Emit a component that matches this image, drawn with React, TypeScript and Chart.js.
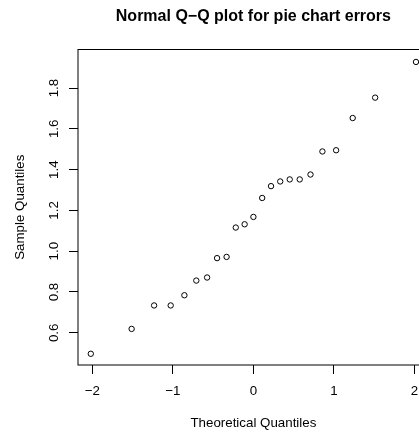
import { useEffect, useRef } from "react";
import { Chart, registerables } from "chart.js";

Chart.register(...registerables);

const chartTitle = "Normal Q\u2212Q plot for pie chart errors";
const xAxisTitle = "Theoretical Quantiles";
const yAxisTitle = "Sample Quantiles";

const theoreticalQuantiles = [
  -2.019, -1.512, -1.233, -1.027, -0.857, -0.709, -0.575, -0.451, -0.333, -0.219, -0.109, 0,
  0.109, 0.219, 0.333, 0.451, 0.575, 0.709, 0.857, 1.027, 1.233, 1.512, 2.019,
];
const sampleQuantiles = [
  0.497, 0.619, 0.734, 0.734, 0.784, 0.856, 0.871, 0.966, 0.972, 1.116, 1.132, 1.168,
  1.261, 1.319, 1.342, 1.352, 1.352, 1.376, 1.489, 1.495, 1.653, 1.753, 1.928,
];

const xTicks = [-2, -1, 0, 1, 2];
const xTickLabels = ["\u22122", "\u22121", "0", "1", "2"];
const yTicks = [0.6, 0.8, 1.0, 1.2, 1.4, 1.6, 1.8];
const yTickLabels = ["0.6", "0.8", "1.0", "1.2", "1.4", "1.6", "1.8"];

const FONT = "'Liberation Sans', Arial, Helvetica, sans-serif";

const boxPlugin = {
  id: "plotBox",
  afterDraw(chart: any) {
    const { ctx, chartArea } = chart;
    ctx.save();
    ctx.strokeStyle = "#000";
    ctx.lineWidth = 1;
    ctx.strokeRect(chartArea.left, chartArea.top, chartArea.right - chartArea.left, chartArea.bottom - chartArea.top);
    ctx.restore();
  },
};

export default function App() {
  const ref = useRef<HTMLCanvasElement | null>(null);

  useEffect(() => {
    if (!ref.current) return;
    const points = theoreticalQuantiles.map((x, i) => ({ x, y: sampleQuantiles[i] }));
    const chart = new Chart(ref.current, {
      type: "scatter",
      data: {
        datasets: [
          {
            data: points,
            pointRadius: 2.7,
            pointHoverRadius: 2.7,
            pointBorderWidth: 1,
            pointBorderColor: "#000",
            pointBackgroundColor: "rgba(0,0,0,0)",
            showLine: false,
          },
        ],
      },
      options: {
        animation: false,
        responsive: false,
        devicePixelRatio: 1,
        layout: { padding: { left: 0, right: 11.2, top: 0, bottom: 0 } },
        plugins: {
          legend: { display: false },
          tooltip: { enabled: false },
          title: {
            display: true,
            text: chartTitle,
            fullSize: false,
            color: "#000",
            font: { family: FONT, size: 16, weight: "bold", lineHeight: 1.2 },
            padding: { top: 6.9, bottom: 23.4 },
          },
        },
        scales: {
          x: {
            type: "linear",
            min: -2.178,
            max: 2.178,
            afterBuildTicks: (scale: any) => {
              scale.ticks = xTicks.map((v) => ({ value: v }));
            },
            afterFit: (scale: any) => {
              scale.height = 70;
            },
            ticks: {
              color: "#000",
              padding: 9.7,
              maxRotation: 0,
              minRotation: 0,
              autoSkip: false,
              font: { family: FONT, size: 13.33 },
              callback: (value: any) => {
                const i = xTicks.indexOf(Number(value));
                return i >= 0 ? xTickLabels[i] : "";
              },
            },
            grid: {
              drawOnChartArea: false,
              drawTicks: true,
              tickLength: 9,
              color: "#000",
              lineWidth: 1,
            },
            border: { display: false },
            title: {
              display: true,
              text: xAxisTitle,
              color: "#000",
              font: { family: FONT, size: 13.33, lineHeight: 1.2 },
              padding: { top: 0, bottom: 4 },
            },
          },
          y: {
            type: "linear",
            min: 0.442,
            max: 1.989,
            afterBuildTicks: (scale: any) => {
              scale.ticks = yTicks.map((v) => ({ value: v }));
            },
            afterFit: (scale: any) => {
              scale.width = 78;
            },
            ticks: {
              color: "#000",
              padding: 5,
              minRotation: 90,
              maxRotation: 90,
              crossAlign: "center",
              autoSkip: false,
              font: { family: FONT, size: 13.33 },
              callback: (value: any) => {
                const i = yTicks.findIndex((t) => Math.abs(t - Number(value)) < 1e-9);
                return i >= 0 ? yTickLabels[i] : "";
              },
            },
            grid: {
              drawOnChartArea: false,
              drawTicks: true,
              tickLength: 9,
              color: "#000",
              lineWidth: 1,
            },
            border: { display: false },
            title: {
              display: true,
              text: yAxisTitle,
              color: "#000",
              font: { family: FONT, size: 13.33, lineHeight: 1.2 },
              padding: { top: 12, bottom: 0 },
            },
          },
        },
      } as any,
      plugins: [boxPlugin],
    });
    return () => chart.destroy();
  }, []);

  return (
    <div
      style={{
        position: "fixed",
        left: 0,
        top: 0,
        width: 419,
        height: 435,
        overflow: "hidden",
        background: "#fff",
      }}
    >
      <canvas ref={ref} width={440} height={435} style={{ display: "block", width: 440, height: 435 }} />
    </div>
  );
}
